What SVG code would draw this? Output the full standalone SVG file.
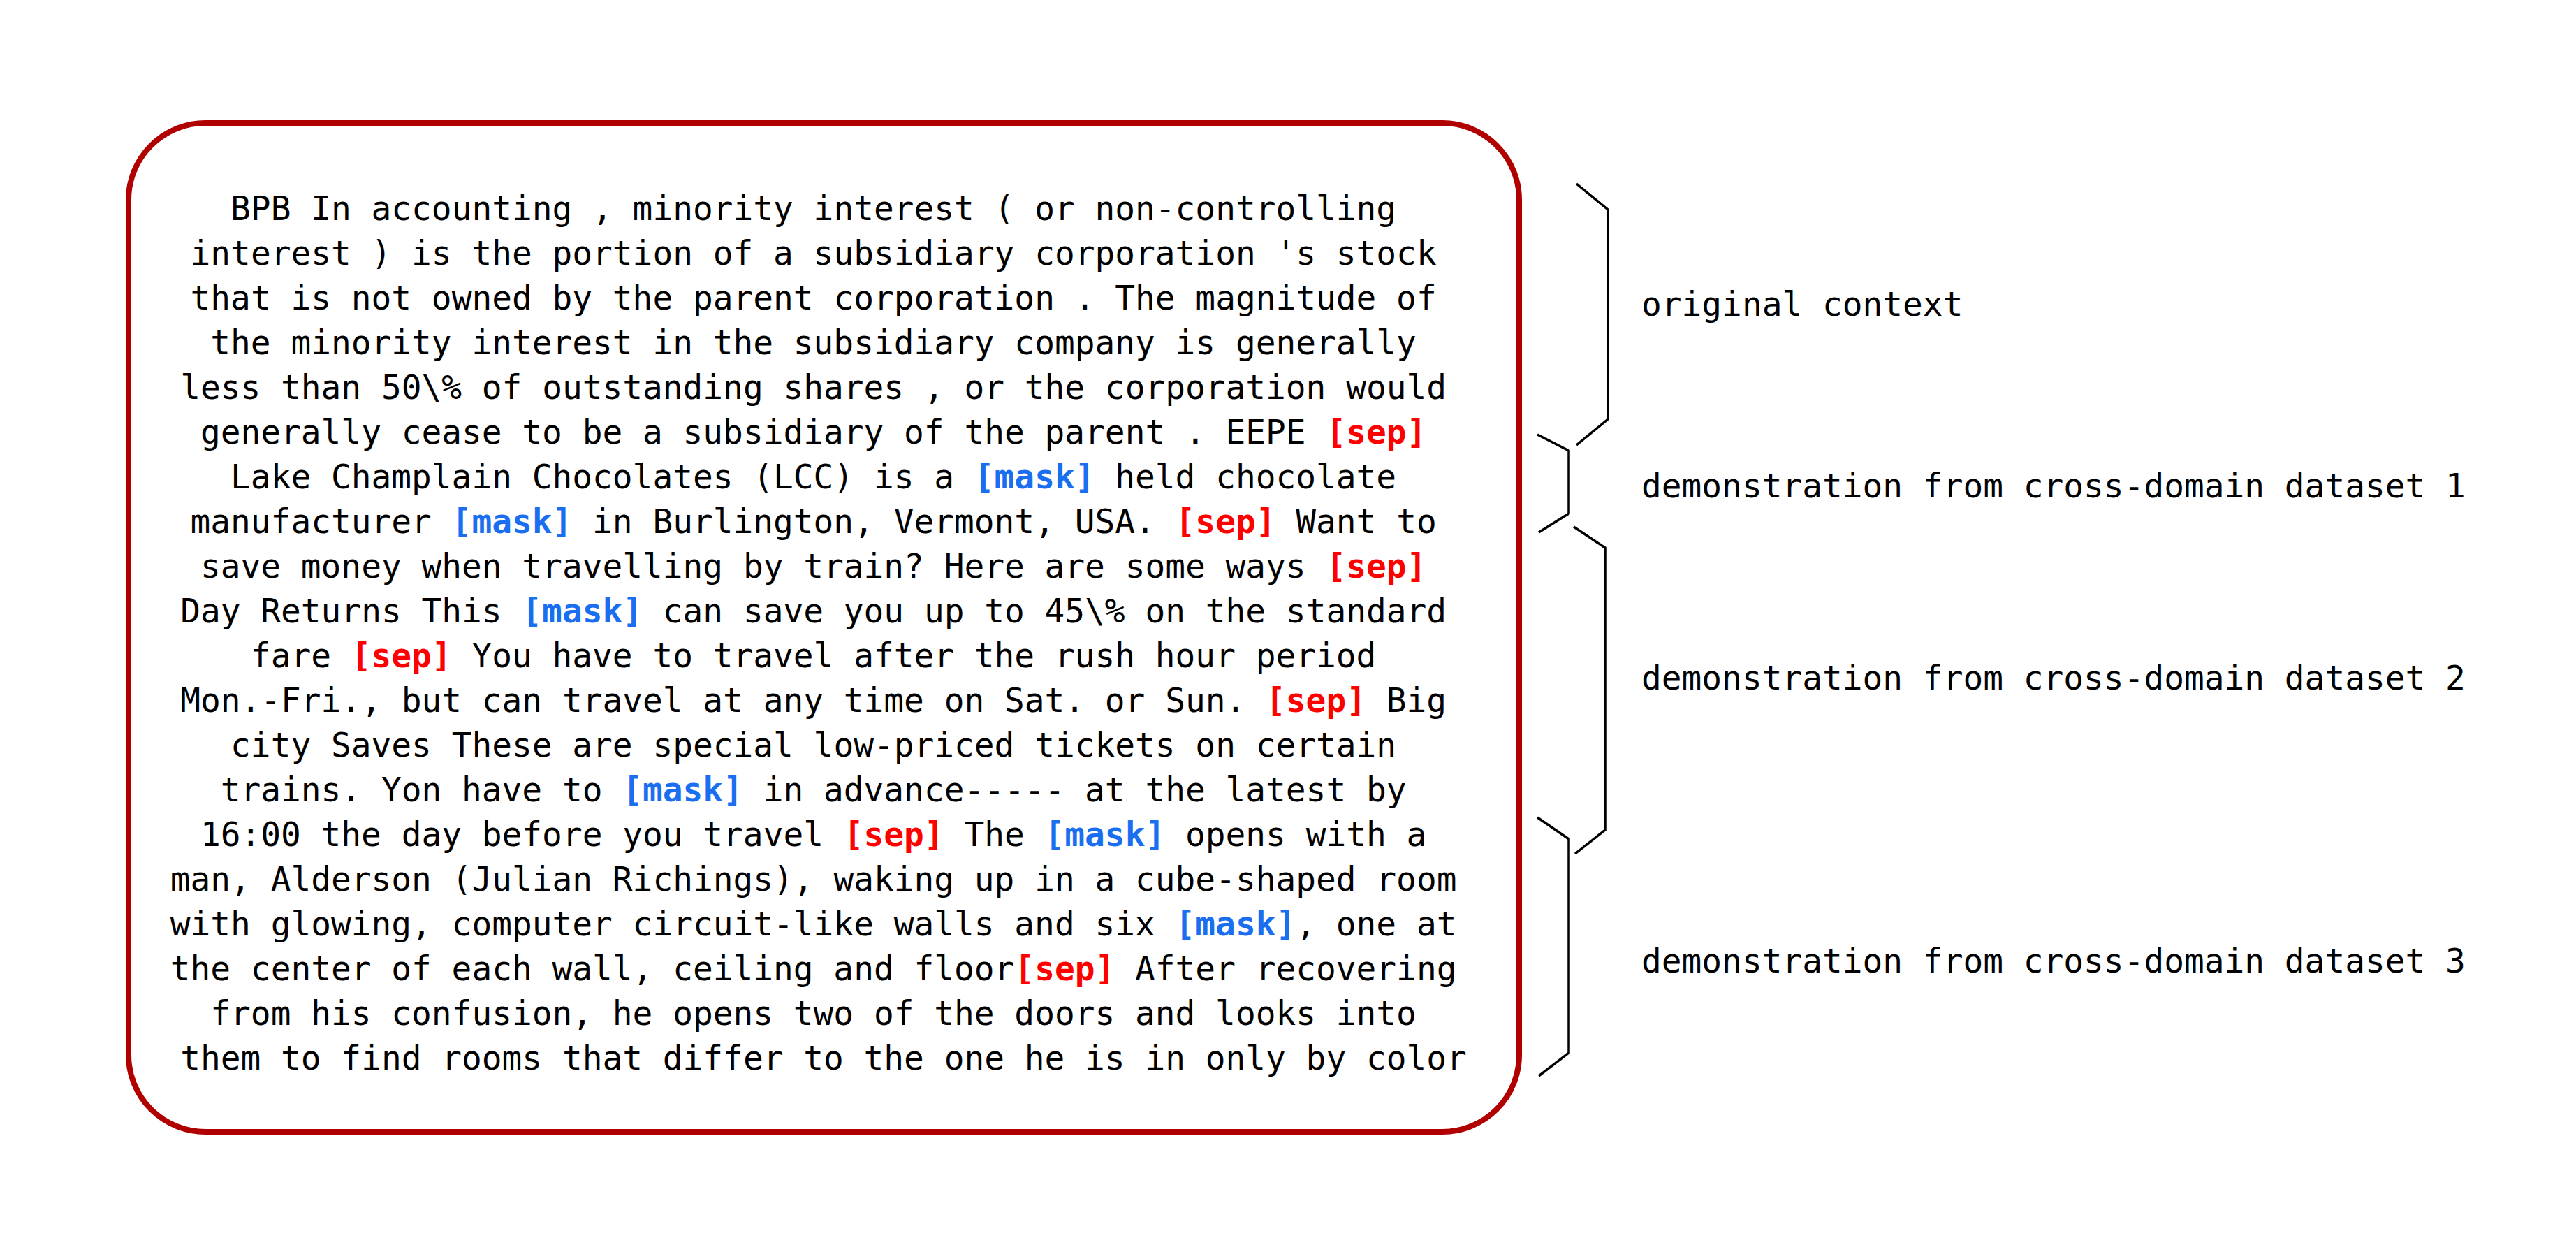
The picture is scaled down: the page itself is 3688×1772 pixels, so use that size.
<svg xmlns="http://www.w3.org/2000/svg" width="3688" height="1772" viewBox="0 0 3688 1772">
<style>
.t{font-family:"DejaVu Sans Mono","Liberation Mono",monospace;font-size:47.8px;fill:#000}
.c{text-anchor:middle}
.s{fill:#ff0000;font-weight:bold}
.m{fill:#1a6ef0;font-weight:bold}
.br{fill:none;stroke:#000;stroke-width:3.5;stroke-linejoin:miter}
</style>
<rect width="3688" height="1772" fill="#fff"/>
<g id="context-box">
<rect x="184" y="176" width="1991" height="1444" rx="110" ry="110" fill="none" stroke="#b00000" stroke-width="8"/>
<text class="t c" x="1179">
<tspan x="1179" y="315">BPB In accounting , minority interest ( or non-controlling</tspan>
<tspan x="1179" y="379">interest ) is the portion of a subsidiary corporation 's stock</tspan>
<tspan x="1179" y="443">that is not owned by the parent corporation . The magnitude of</tspan>
<tspan x="1179" y="507">the minority interest in the subsidiary company is generally</tspan>
<tspan x="1179" y="571">less than 50\% of outstanding shares , or the corporation would</tspan>
<tspan x="1179" y="635">generally cease to be a subsidiary of the parent . EEPE <tspan class="s">[sep]</tspan></tspan>
<tspan x="1179" y="699">Lake Champlain Chocolates (LCC) is a <tspan class="m">[mask]</tspan> held chocolate</tspan>
<tspan x="1179" y="763">manufacturer <tspan class="m">[mask]</tspan> in Burlington, Vermont, USA. <tspan class="s">[sep]</tspan> Want to</tspan>
<tspan x="1179" y="827">save money when travelling by train? Here are some ways <tspan class="s">[sep]</tspan></tspan>
<tspan x="1179" y="891">Day Returns This <tspan class="m">[mask]</tspan> can save you up to 45\% on the standard</tspan>
<tspan x="1179" y="955">fare <tspan class="s">[sep]</tspan> You have to travel after the rush hour period</tspan>
<tspan x="1179" y="1019">Mon.-Fri., but can travel at any time on Sat. or Sun. <tspan class="s">[sep]</tspan> Big</tspan>
<tspan x="1179" y="1083">city Saves These are special low-priced tickets on certain</tspan>
<tspan x="1179" y="1147">trains. Yon have to <tspan class="m">[mask]</tspan> in advance----- at the latest by</tspan>
<tspan x="1179" y="1211">16:00 the day before you travel <tspan class="s">[sep]</tspan> The <tspan class="m">[mask]</tspan> opens with a</tspan>
<tspan x="1179" y="1275">man, Alderson (Julian Richings), waking up in a cube-shaped room</tspan>
<tspan x="1179" y="1339">with glowing, computer circuit-like walls and six <tspan class="m">[mask]</tspan>, one at</tspan>
<tspan x="1179" y="1403">the center of each wall, ceiling and floor<tspan class="s">[sep]</tspan> After recovering</tspan>
<tspan x="1179" y="1467">from his confusion, he opens two of the doors and looks into</tspan>
<tspan x="1179" y="1531">them to find rooms that differ to the one he is in only by color</tspan>
</text>
</g>
<g id="connectors">
<polyline class="br" points="2257,263 2302,300 2302,600 2257,637"/>
<polyline class="br" points="2201,622 2246,645 2246,735 2203,762"/>
<polyline class="br" points="2253,754 2298,784 2298,1188 2255,1222"/>
<polyline class="br" points="2201,1170 2246,1201 2246,1507 2203,1540"/>
</g>
<g id="label-original">
<text class="t" x="2350" y="452">original context</text>
</g>
<g id="label-demo1">
<text class="t" x="2350" y="712">demonstration from cross-domain dataset 1</text>
</g>
<g id="label-demo2">
<text class="t" x="2350" y="987">demonstration from cross-domain dataset 2</text>
</g>
<g id="label-demo3">
<text class="t" x="2350" y="1392">demonstration from cross-domain dataset 3</text>
</g>
</svg>
